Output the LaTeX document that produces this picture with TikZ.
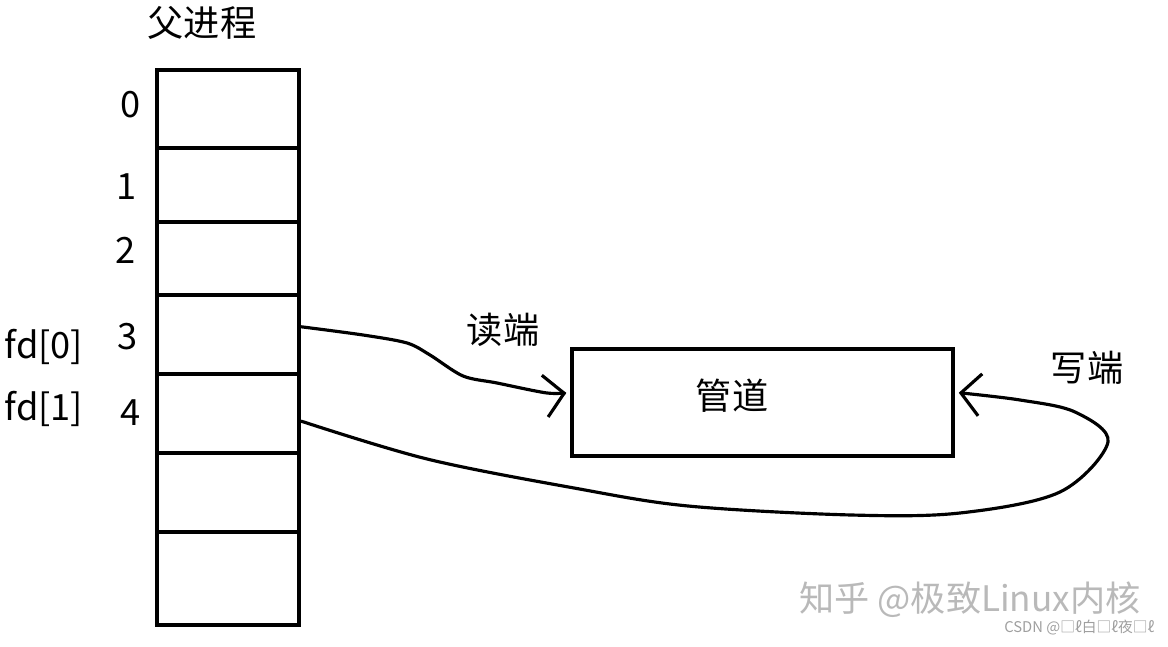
\documentclass[tikz,border=0pt]{standalone}
\usepackage{fontspec}
\setmainfont{Noto Sans CJK SC}
\usepackage{tikz}
\usetikzlibrary{arrows.meta,positioning}

\tikzset{
  cell/.style={draw, line width=1.3pt, minimum width=1.42cm, inner sep=0pt},
  lbl/.style={font=\fontsize{10.3pt}{12pt}\selectfont, inner sep=0pt},
  wire/.style={line width=0.9pt, line cap=round, line join=round,
    -{Straight Barb[length=5.5pt,width=12pt,line width=0.9pt]}},
  wmark/.style={font=\fontsize{10pt}{12pt}\selectfont, text=gray!55, inner sep=0pt}
}

\begin{document}
\begin{tikzpicture}
        \useasboundingbox (0,0) rectangle (11.68,-6.47);

        % file descriptor table of the parent
        \node[lbl] (title) at (2.02,-0.23) {父进程};
        \node[cell, minimum height=0.78cm] (c0) at (2.28,-1.09) {};
        \node[cell, minimum height=0.74cm] (c1) at (2.28,-1.85) {};
        \node[cell, minimum height=0.73cm] (c2) at (2.28,-2.585) {};
        \node[cell, minimum height=0.79cm] (c3) at (2.28,-3.345) {};
        \node[cell, minimum height=0.79cm] (c4) at (2.28,-4.135) {};
        \node[cell, minimum height=0.79cm] (c5) at (2.28,-4.925) {};
        \node[cell, minimum height=0.93cm] (c6) at (2.28,-5.785) {};

        \node[lbl] (n0) at (1.31,-1.05) {0};
        \node[lbl] (n1) at (1.27,-1.87) {1};
        \node[lbl] (n2) at (1.26,-2.50) {2};
        \node[lbl] (n3) at (1.28,-3.37) {3};
        \node[lbl] (n4) at (1.31,-4.13) {4};
        \node[lbl] (fd0) at (0.44,-3.47) {fd[0]};
        \node[lbl] (fd1) at (0.44,-4.09) {fd[1]};

        % the pipe
        \node[draw, line width=1.3pt, minimum width=3.81cm, minimum height=1.07cm]
             (pipe) at (7.625,-4.025) {};
        \node[lbl] (pname) at (7.32,-3.96) {管道};
        \node[lbl] (rd) at (5.03,-3.30) {读端};
        \node[lbl] (wr) at (10.87,-3.68) {写端};

        \draw[wire, shorten >=1pt] plot[smooth, tension=0.5] coordinates
             {(c3.6) (3.63,-3.35) (4.07,-3.43) (4.30,-3.55) (4.63,-3.76)
              (4.97,-3.83) (5.47,-3.93) (pipe.177)};
        \draw[wire, shorten >=1pt] plot[smooth, tension=0.55] coordinates
             {(c4.-6) (4.27,-4.59) (5.74,-4.88) (6.88,-5.06) (8.51,-5.15)
              (9.6,-5.13) (10.6,-4.92) (11.08,-4.42) (10.75,-4.12) (10.2,-4.00) (pipe.3)};

        % watermark
        \node[wmark] (wm) at (9.70,-6.00) {知乎 @极致Linux内核};
        \node[wmark, font=\fontsize{4.2pt}{5pt}\selectfont, text=gray!75, anchor=east]
             (csdn) at (11.55,-6.28) {CSDN @□ℓ白□ℓ夜□ℓ};
\end{tikzpicture}
\end{document}
